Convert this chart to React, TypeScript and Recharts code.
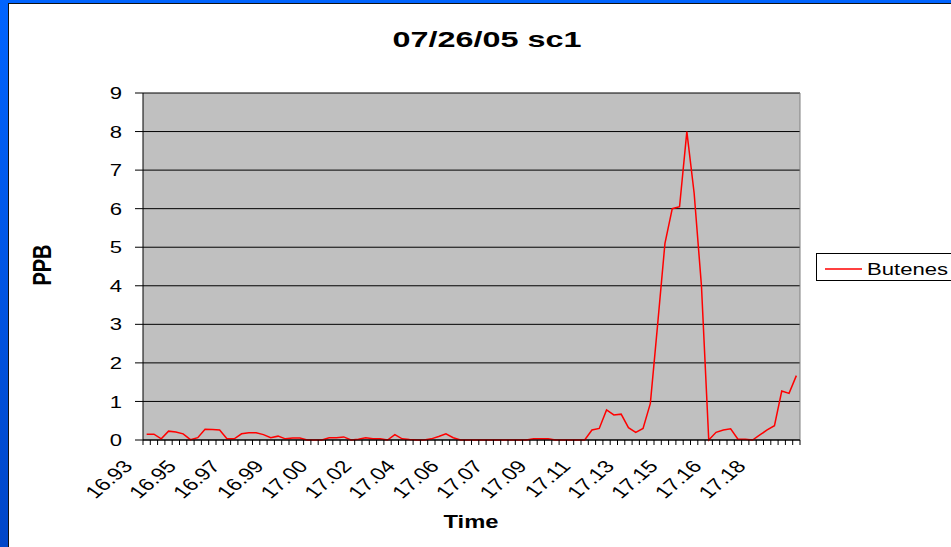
import React from "react";
import { LineChart, Line, XAxis, YAxis, CartesianGrid } from "recharts";

// sample times (decimal hours, shown with 2 decimals like the sheet)
const times = [
  "16.93", "16.94", "16.94", "16.94", "16.95", "16.95", "16.95", "16.96", "16.96", "16.96",
  "16.96", "16.97", "16.97", "16.97", "16.98", "16.98", "16.98", "16.98", "16.99", "16.99",
  "16.99", "17.00", "17.00", "17.00", "17.00", "17.01", "17.01", "17.01", "17.02", "17.02",
  "17.02", "17.03", "17.03", "17.03", "17.03", "17.04", "17.04", "17.04", "17.05", "17.05",
  "17.05", "17.05", "17.06", "17.06", "17.06", "17.07", "17.07", "17.07", "17.07", "17.08",
  "17.08", "17.08", "17.09", "17.09", "17.09", "17.10", "17.10", "17.10", "17.10", "17.11",
  "17.11", "17.11", "17.12", "17.12", "17.12", "17.12", "17.13", "17.13", "17.13", "17.14",
  "17.14", "17.14", "17.15", "17.15", "17.15", "17.15", "17.16", "17.16", "17.16", "17.17",
  "17.17", "17.17", "17.17", "17.18", "17.18", "17.18", "17.19", "17.19", "17.19", "17.19",
];

// Butenes, PPB
const butenes = [
  0.15, 0.15, 0.03, 0.23, 0.21, 0.16, 0.01, 0.06, 0.28, 0.27,
  0.26, 0.03, 0.03, 0.16, 0.19, 0.19, 0.14, 0.06, 0.1, 0.03,
  0.05, 0.05, 0, 0, 0, 0.06, 0.06, 0.08, 0, 0.02,
  0.06, 0.03, 0.03, 0, 0.14, 0.03, 0.01, 0, 0, 0.03,
  0.09, 0.16, 0.06, 0, 0, 0, 0, 0, 0, 0,
  0, 0, 0, 0.03, 0.03, 0.03, 0, 0, 0, 0,
  0, 0.26, 0.3, 0.78, 0.65, 0.67, 0.32, 0.2, 0.3, 0.95,
  3.0, 5.1, 6.0, 6.05, 8.0, 6.4, 4.0, 0, 0.2, 0.26,
  0.29, 0.02, 0.02, 0, 0.13, 0.26, 0.37, 1.27, 1.21, 1.67,
];

const yTicks = [0, 1, 2, 3, 4, 5, 6, 7, 8, 9];

const data = times.map((t, i) => ({ time: t, Butenes: butenes[i] }));

const FONT = "'Liberation Sans', Arial, sans-serif";
const STRETCH = 1.3;
const PLOT_LEFT = 143;
const PLOT_RIGHT = 800;
const HALF = (PLOT_RIGHT - PLOT_LEFT) / times.length / 2;

function TimeTick(props: any) {
  const { x, y, payload, index } = props;
  const i = index ?? payload.index;
  return (
    <g>
      <line x1={x - HALF} x2={x - HALF} y1={y} y2={y + 5} stroke="#000" />
      {i === times.length - 1 && (
        <line x1={x + HALF} x2={x + HALF} y1={y} y2={y + 5} stroke="#000" />
      )}
      {i % 6 === 0 && (
        <text
          transform={`translate(${x - 13},${y + 27}) scale(${STRETCH},1) rotate(-48)`}
          textAnchor="end"
          fontSize={17.5}
          fontFamily={FONT}
          fill="#000"
        >
          {payload.value}
        </text>
      )}
    </g>
  );
}

function PpbTick(props: any) {
  const { x, y, payload } = props;
  return (
    <text
      transform={`translate(${x},${y}) scale(${STRETCH},1)`}
      textAnchor="end"
      dy="0.36em"
      fontSize={17}
      fontFamily={FONT}
      fill="#000"
    >
      {payload.value}
    </text>
  );
}

function AxisTitle({ px, py, text, vertical }: any) {
  return (
    <text
      transform={`translate(${px},${py}) scale(1.25,1)${vertical ? " rotate(-90)" : ""}`}
      textAnchor="middle"
      dominantBaseline={vertical ? "central" : "auto"}
      fontSize={vertical ? 20 : 19}
      fontWeight="bold"
      fontFamily={FONT}
      fill="#000"
    >
      {text}
    </text>
  );
}

export default function App() {
  return (
    <div
      style={{
        position: "fixed",
        left: 0,
        top: 0,
        width: 951,
        height: 547,
        overflow: "hidden",
        background: "linear-gradient(#0064ff, #0046c8)",
      }}
    >
      <div
        style={{
          position: "absolute",
          left: 8,
          top: 3,
          right: 0,
          bottom: 0,
          background: "#fff",
          borderLeft: "1px solid #111",
          borderTop: "1px solid #111",
        }}
      />
      <div style={{ position: "absolute", left: 0, top: 0 }}>
        <LineChart
          width={951}
          height={547}
          data={data}
          margin={{ top: 93, right: 951 - PLOT_RIGHT, bottom: 0, left: 0 }}
        >
          <CartesianGrid
            vertical={false}
            fill="#c0c0c0"
            fillOpacity={1}
            stroke="#000"
            strokeOpacity={1}
          />
          <CartesianGrid
            horizontal={false}
            verticalPoints={[PLOT_RIGHT]}
            stroke="#808080"
          />
          <XAxis
            dataKey="time"
            type="category"
            interval={0}
            height={547 - 440}
            padding={{ left: HALF, right: HALF }}
            tickSize={0}
            tickMargin={0}
            tickLine={false}
            axisLine={{ stroke: "#000" }}
            tick={<TimeTick />}
            label={<AxisTitle px={471} py={528} text="Time" />}
          />
          <YAxis
            type="number"
            domain={[0, 9]}
            ticks={yTicks}
            interval={0}
            width={PLOT_LEFT}
            tickSize={8}
            tickMargin={13}
            tickLine={{ stroke: "#000" }}
            axisLine={{ stroke: "#000" }}
            tick={<PpbTick />}
            label={<AxisTitle px={43} py={265} text="PPB" vertical />}
          />
          <Line
            type="linear"
            dataKey="Butenes"
            stroke="#ff0000"
            strokeWidth={1.5}
            dot={false}
            isAnimationActive={false}
          />
        </LineChart>
      </div>
      <svg
        width={951}
        height={547}
        style={{ position: "absolute", left: 0, top: 0, pointerEvents: "none" }}
      >
        <text
          x={487}
          y={47}
          textAnchor="middle"
          fontSize={22}
          fontWeight="bold"
          fontFamily={FONT}
          textLength={189}
          lengthAdjust="spacingAndGlyphs"
          fill="#000"
        >
          07/26/05 sc1
        </text>
        <rect x={816.5} y={253.5} width={200} height={27} fill="#fff" stroke="#000" />
        <line x1={825} x2={862} y1={269} y2={269} stroke="#ff0000" strokeWidth={1.5} />
        <text
          transform={`translate(867,275) scale(${STRETCH},1)`}
          fontSize={17}
          fontFamily={FONT}
          fill="#000"
        >
          Butenes
        </text>
      </svg>
    </div>
  );
}
